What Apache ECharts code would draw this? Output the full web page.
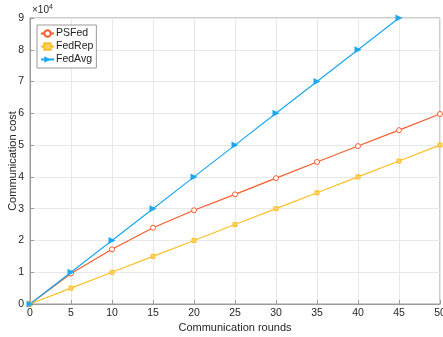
<!DOCTYPE html>
<html>
<head>
<meta charset="utf-8">
<script src="https://cdn.jsdelivr.net/npm/echarts@6/dist/echarts.min.js"></script>
<style>
  html, body { margin: 0; padding: 0; background: #fff; }
  #chart { width: 443px; height: 337px; }
</style>
</head>
<body>
<div id="chart"></div>
<script>
// values
var rounds = [0, 5, 10, 15, 20, 25, 30, 35, 40, 45, 50];
var psfed  = [0, 9600, 17200, 24000, 29500, 34500, 39600, 44700, 49700, 54700, 59800];
var fedrep = [0, 5000, 10000, 15000, 20000, 25000, 30000, 35000, 40000, 45000, 50000];
var fedavg = [0, 10000, 20000, 30000, 40000, 50000, 60000, 70000, 80000, 90000];

var font = "'Liberation Sans', Arial, sans-serif";

function pairs(ys) {
    return ys.map(function(y, i) { return [rounds[i], y] })
}

var chart = echarts.init(document.getElementById("chart"));
chart.setOption({
    animation: false,
    textStyle: {fontFamily: font},
    grid: {left: 30, right: 3, top: 18, bottom: 33, outerBoundsMode: "none", containLabel: false,
        show: true, borderColor: "#9a9a9a", borderWidth: 1},
    legend: {
        orient: "vertical", left: 37, top: 25,
        backgroundColor: "#fff", borderColor: "#9a9a9a", borderWidth: 1,
        padding: [3, 3, 3, 3], itemGap: 2, itemWidth: 13, itemHeight: 8,
        textStyle: {fontSize: 10.5, color: "#222", padding: [0, 0, 0, -3]},
        data: ["PSFed", "FedRep", "FedAvg"]
    },
    xAxis: {
        type: "value", min: 0, max: 50, interval: 5,
        name: "Communication rounds", nameLocation: "middle", nameGap: 18, nameMoveOverlap: false,
        nameTextStyle: {fontSize: 11, color: "#262626"},
        axisLine: {lineStyle: {color: "#9a9a9a"}},
        axisTick: {inside: true, length: 4, lineStyle: {color: "#9a9a9a"}},
        axisLabel: {fontSize: 10.5, color: "#262626", margin: 4},
        splitLine: {lineStyle: {color: "#e8e8e8"}}
    },
    yAxis: {
        type: "value", min: 0, max: 90000, interval: 10000,
        name: "Communication cost", nameLocation: "middle", nameGap: 12, nameMoveOverlap: false,
        nameTextStyle: {fontSize: 11, color: "#262626"},
        axisLine: {lineStyle: {color: "#9a9a9a"}},
        axisTick: {inside: true, length: 4, lineStyle: {color: "#9a9a9a"}},
        axisLabel: {fontSize: 10.5, color: "#262626", margin: 6, formatter: function(v) { return v / 10000 }},
        splitLine: {lineStyle: {color: "#e8e8e8"}}
    },
    graphic: [{
        type: "text", left: 32, top: 4,
        style: {text: "×10{sup|4}", fill: "#262626", font: "10px " + font,
            rich: {sup: {fontSize: 7, verticalAlign: "top", padding: [0, 0, 6, 0]}}}
    }],
    series: [
        {name: "PSFed", type: "line", data: pairs(psfed),
            symbol: "circle", symbolSize: 5,
            itemStyle: {color: "#fff", borderColor: "#f85c2c", borderWidth: 1},
            lineStyle: {width: 1.2, color: "#f85c2c"}},
        {name: "FedRep", type: "line", data: pairs(fedrep),
            symbol: "rect", symbolSize: 4,
            itemStyle: {color: "#fdd36a", borderColor: "#fdbf26", borderWidth: 1},
            lineStyle: {width: 1.2, color: "#fdbf26"}},
        {name: "FedAvg", type: "line", data: pairs(fedavg),
            symbol: "triangle", symbolSize: 7, symbolRotate: -90,
            itemStyle: {color: "#1ba8ee"},
            lineStyle: {width: 1.2, color: "#1ba8ee"}}
    ]
});
</script>
</body>
</html>
